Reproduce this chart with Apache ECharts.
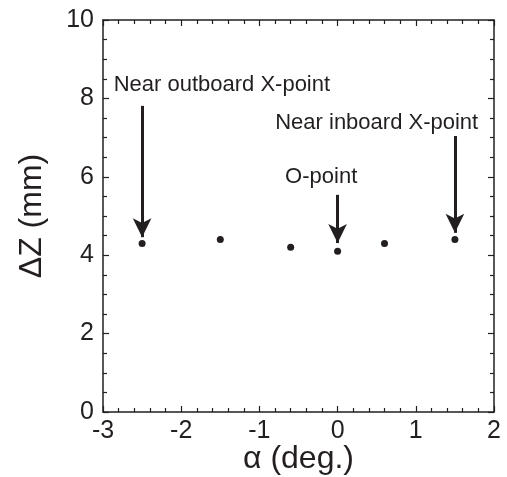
<!DOCTYPE html>
<html>
<head>
<meta charset="utf-8">
<script src="https://cdn.jsdelivr.net/npm/echarts@6/dist/echarts.min.js"></script>
<style>
  html, body { margin: 0; padding: 0; background: #fff; }
  #chart { width: 507px; height: 477px; }
</style>
</head>
<body>
<div id="chart"></div>
<script>
// measured points: alpha (deg.) vs delta Z (mm)
var alphaDeg = [-2.5, -1.5, -0.6, 0, 0.6, 1.5];
var deltaZ = [4.3, 4.4, 4.2, 4.1, 4.3, 4.4];

// annotations: text, text position, arrow from -> to (data coords)
var noteText = ['Near outboard X-point', 'Near inboard X-point', 'O-point'];
var notePos = [[-1.48, 8.34], [0.5, 7.37], [-0.21, 6.0]];
var arrowFrom = [[-2.5, 7.81], [1.5, 7.04], [0, 5.54]];
var arrowTo = [[-2.5, 4.46], [1.5, 4.57], [0, 4.31]];

var fontFam = '"Liberation Sans", Arial, sans-serif';
var ink = '#231f20';
var chart = echarts.init(document.getElementById('chart'));

var tickStyle = { color: ink, width: 1.2 };
var lineStyle = { color: ink, width: 1.5 };

function axisBase(extra) {
    var base = {
        type: 'value',
        axisLine: { onZero: false, lineStyle: lineStyle },
        axisTick: { inside: true, length: 6, lineStyle: tickStyle },
        splitLine: { show: false }
    };
    return Object.assign(base, extra);
}

var option = {
    animation: false,
    grid: { left: 103, right: 13, top: 20, bottom: 65, outerBoundsMode: 'none', containLabel: false },
    xAxis: [
        axisBase({
            min: -3, max: 2, interval: 1,
            name: 'α (deg.)', nameLocation: 'middle', nameGap: 31, nameMoveOverlap: false,
            nameTextStyle: { fontSize: 32, color: ink, fontFamily: fontFam },
            minorTick: { show: true, splitNumber: 5, length: 4, lineStyle: tickStyle },
            axisLabel: { fontSize: 25, color: ink, fontFamily: fontFam, margin: 7 }
        }),
        axisBase({
            min: -3, max: 2, interval: 1, position: 'top',
            minorTick: { show: true, splitNumber: 5, length: 4, lineStyle: tickStyle },
            axisLabel: { show: false }
        })
    ],
    yAxis: [
        axisBase({
            min: 0, max: 10, interval: 2,
            name: 'ΔZ (mm)', nameLocation: 'middle', nameGap: 55, nameMoveOverlap: false,
            nameTextStyle: { fontSize: 32, color: ink, fontFamily: fontFam },
            minorTick: { show: true, splitNumber: 4, length: 4, lineStyle: tickStyle },
            axisLabel: { fontSize: 25, color: ink, fontFamily: fontFam, margin: 9 }
        }),
        axisBase({
            min: 0, max: 10, interval: 2, position: 'right',
            minorTick: { show: true, splitNumber: 4, length: 4, lineStyle: tickStyle },
            axisLabel: { show: false }
        })
    ],
    series: [
        {
            type: 'scatter',
            symbolSize: 7,
            itemStyle: { color: ink, opacity: 1 },
            data: alphaDeg.map(function (a, i) { return [a, deltaZ[i]]; }),
            markLine: {
                silent: true,
                symbol: ['none', 'arrow'],
                symbolSize: [14, 19],
                label: { show: false },
                lineStyle: { color: ink, width: 3, type: 'solid', opacity: 1 },
                data: arrowFrom.map(function (f, i) {
                    return [{ coord: f }, { coord: arrowTo[i] }];
                })
            }
        },
        {
            type: 'scatter',
            symbolSize: 0,
            silent: true,
            itemStyle: { opacity: 1 },
            data: notePos.map(function (p, i) { return { value: p, name: noteText[i] }; }),
            label: {
                show: true, position: 'inside', formatter: '{b}',
                fontSize: 22, color: ink, fontFamily: fontFam
            }
        }
    ]
};

chart.setOption(option);
</script>
</body>
</html>
